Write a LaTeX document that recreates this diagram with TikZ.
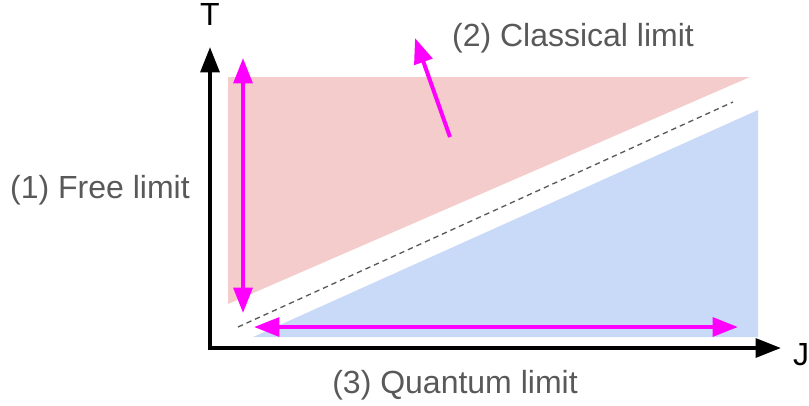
\documentclass[tikz,border=0pt]{standalone}
\usepackage{fontspec}
\setmainfont{Liberation Sans}
\usetikzlibrary{arrows.meta}
\definecolor{freepink}{HTML}{F4CCCC}
\definecolor{quantblue}{HTML}{C9DAF8}
\definecolor{labelgray}{HTML}{595959}
\definecolor{limmagenta}{HTML}{FF00FF}
\begin{document}
\begin{tikzpicture}[x=.75pt,y=.75pt,
  >={Triangle[length=19pt,width=14pt]},
  axis/.style={line width=3pt,<->},
  lim/.style={limmagenta,line width=3pt,<->},
  lbl/.style={inner sep=0pt,text=labelgray,font=\fontsize{24}{28}\selectfont}]
  \useasboundingbox (0,0) rectangle (809,405);
  % regions
  \fill[freepink] (228,328)--(750,328)--(228,101)--cycle;
  \fill[quantblue] (758,295)--(758,68)--(253,68)--cycle;
  \draw[labelgray,line width=1pt,dash pattern=on 4pt off 3pt] (238,78)--(733,303);
  % axes
  \coordinate (O) at (210,57);
  \coordinate (Ttip) at (210,358);
  \coordinate (Jtip) at (781,57);
  \draw[axis] (Ttip)--(O)--(Jtip);
  \node[lbl,text=black] (T) at (210,391) {T};
  \node[lbl,text=black] (J) at (801,50) {J};
  % limits
  \coordinate (freetop) at (243,347); \coordinate (freebot) at (243,92);
  \coordinate (qleft) at (254,78); \coordinate (qright) at (738,78);
  \coordinate (cfrom) at (450,268); \coordinate (cto) at (415,367);
  \draw[lim] (freebot)--(freetop);
  \draw[lim] (qleft)--(qright);
  \draw[lim,->] (cfrom)--(cto);
  \node[lbl] (free) at (100,215) {(1) Free limit};
  \node[lbl] (classical) at (573,367) {(2) Classical limit};
  \node[lbl] (quantum) at (455,20) {(3) Quantum limit};
\end{tikzpicture}
\end{document}
